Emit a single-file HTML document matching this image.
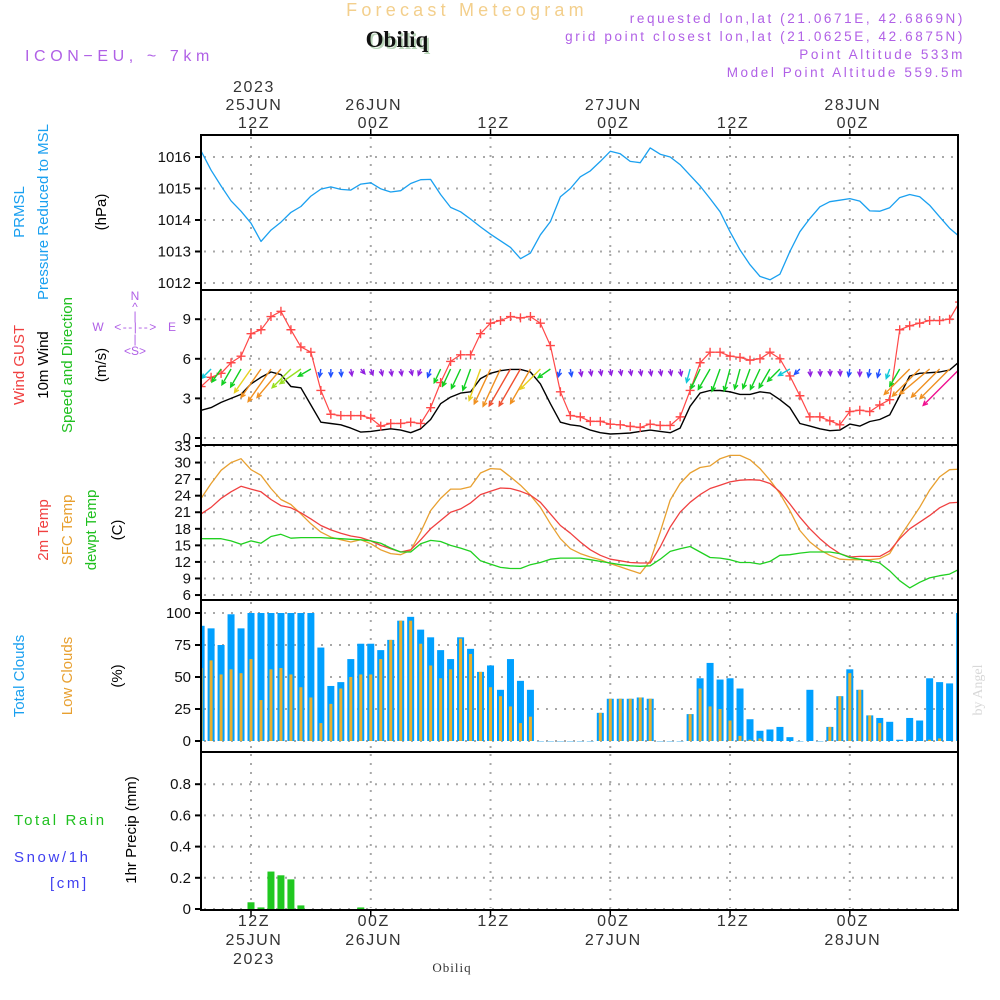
<!DOCTYPE html>
<html><head><meta charset="utf-8"><title>Forecast Meteogram Obiliq</title>
<style>
html,body{margin:0;padding:0;background:#fff;}
svg{display:block;font-family:"Liberation Sans",sans-serif;}
</style></head>
<body>
<svg id="chart" width="1000" height="1000" viewBox="0 0 1000 1000">
  <rect x="0" y="0" width="1000" height="1000" fill="#fff"/>
  <text x="467" y="16" text-anchor="middle" font-size="18" letter-spacing="4.2" fill="#f3cf8c">Forecast Meteogram</text>
  <text x="399" y="49" text-anchor="middle" font-size="23" font-weight="bold" font-family="Liberation Serif, serif" fill="#b8d4b8">Obiliq</text>
  <text x="397" y="47" text-anchor="middle" font-size="23" font-weight="bold" font-family="Liberation Serif, serif" fill="#111">Obiliq</text>
  <text x="25" y="61" font-size="16" letter-spacing="4.6" fill="#b060e6">ICON−EU, ~ 7km</text>
  <g font-size="13.5" letter-spacing="2.6" fill="#b060e6" text-anchor="end">
    <text x="965" y="23">requested lon,lat (21.0671E, 42.6869N)</text>
    <text x="965" y="41">grid point closest lon,lat (21.0625E, 42.6875N)</text>
    <text x="965" y="59">Point Altitude 533m</text>
    <text x="965" y="77">Model Point Altitude 559.5m</text>
  </g>
  <!-- left titles -->
  <g font-size="15">
    <text transform="translate(24,212) rotate(-90)" text-anchor="middle" fill="#1aa0f0">PRMSL</text>
    <text transform="translate(48,212) rotate(-90)" text-anchor="middle" fill="#1aa0f0">Pressure Reduced to MSL</text>
    <text transform="translate(106,212) rotate(-90)" text-anchor="middle" fill="#000">(hPa)</text>
    <text transform="translate(24,365) rotate(-90)" text-anchor="middle" fill="#f04040">Wind GUST</text>
    <text transform="translate(48,365) rotate(-90)" text-anchor="middle" fill="#000">10m Wind</text>
    <text transform="translate(72,365) rotate(-90)" text-anchor="middle" fill="#20c020">Speed and Direction</text>
    <text transform="translate(106,365) rotate(-90)" text-anchor="middle" fill="#000">(m/s)</text>
    <text transform="translate(48,530) rotate(-90)" text-anchor="middle" fill="#f04040">2m Temp</text>
    <text transform="translate(72,530) rotate(-90)" text-anchor="middle" fill="#e8a030">SFC Temp</text>
    <text transform="translate(96,530) rotate(-90)" text-anchor="middle" fill="#20c020">dewpt Temp</text>
    <text transform="translate(122,530) rotate(-90)" text-anchor="middle" fill="#000">(C)</text>
    <text transform="translate(24,676) rotate(-90)" text-anchor="middle" fill="#1aa0f0">Total Clouds</text>
    <text transform="translate(72,676) rotate(-90)" text-anchor="middle" fill="#e8a030">Low Clouds</text>
    <text transform="translate(122,676) rotate(-90)" text-anchor="middle" fill="#000">(%)</text>
    <text transform="translate(136,830) rotate(-90)" text-anchor="middle" fill="#000">1hr Precip (mm)</text>
    <text x="14" y="825" fill="#20c020" letter-spacing="2.6">Total   Rain</text>
    <text x="14" y="862" fill="#4040f0" letter-spacing="2.6">Snow/1h</text>
    <text x="50" y="888" fill="#4040f0" letter-spacing="2.6">[cm]</text>
  </g>
  <g fill="#b060e6" font-size="12" text-anchor="middle">
    <text x="135" y="300">N</text>
    <text x="135" y="311">^</text>
    <text x="135" y="320">|</text>
    <text x="98" y="331">W</text>
    <text x="136" y="331" letter-spacing="1.5">&lt;--|--&gt;</text>
    <text x="172" y="331">E</text>
    <text x="135" y="343">|</text>
    <text x="135" y="355">&lt;S&gt;</text>
  </g>
  <text transform="translate(982,690) rotate(-90)" text-anchor="middle" font-size="14" font-family="Liberation Serif, serif" fill="#d8d8d8">by Angel</text>
  <text x="452" y="972" text-anchor="middle" font-size="13" font-family="Liberation Serif, serif" fill="#333" letter-spacing="1">Obiliq</text>
  <g id="plot"></g>
</svg>
<script>
// ---- data (hourly from 07Z 25JUN to 11Z 28JUN; index 0 = 5h before 12Z 25JUN) ----
const firstHour = -5;
const pressure = [1016.19,1015.58,1015.08,1014.61,1014.28,1013.9,1013.32,1013.68,1013.93,1014.24,
1014.43,1014.76,1014.98,1015.05,1014.97,1014.95,1015.14,1015.18,1014.99,1014.89,
1014.93,1015.16,1015.28,1015.29,1014.81,1014.4,1014.26,1014.03,1013.78,1013.55,
1013.34,1013.13,1012.77,1012.95,1013.53,1013.95,1014.74,1015.0,1015.37,1015.56,
1015.86,1016.18,1016.1,1015.86,1015.82,1016.29,1016.09,1016.0,1015.76,1015.42,
1015.08,1014.68,1014.26,1013.63,1013.05,1012.58,1012.21,1012.1,1012.28,1013.0,
1013.63,1014.05,1014.42,1014.58,1014.63,1014.68,1014.6,1014.29,1014.28,1014.39,
1014.71,1014.81,1014.74,1014.47,1014.1,1013.74,1013.47];
const windGust = [3.9,4.6,4.9,5.7,6.2,7.9,8.2,9.2,9.6,8.2,
6.9,6.5,3.6,1.8,1.7,1.7,1.7,1.5,0.9,1.1,
1.1,1.2,1.1,2.3,4.2,5.8,6.3,6.3,7.9,8.7,
8.9,9.2,9.1,9.2,8.7,7.0,3.5,1.7,1.6,1.26,
1.26,1.05,1.0,0.88,0.8,1.05,0.95,0.95,1.6,3.6,
5.7,6.5,6.5,6.2,6.1,5.9,6.0,6.5,6.0,4.7,
3.2,1.6,1.6,1.3,1.0,2.0,2.1,2.0,2.5,2.9,
8.2,8.5,8.7,8.9,8.9,9.0,10.3];
const windSpeed = [2.1,2.3,2.7,3.0,3.3,4.1,4.6,5.0,4.8,3.9,
3.8,2.5,1.2,1.1,1.0,0.75,0.45,0.5,0.6,0.7,
0.6,0.4,0.7,1.4,2.6,3.1,3.4,3.5,4.5,4.9,
5.1,5.2,5.2,5.0,4.1,2.6,1.2,1.0,0.9,0.6,
0.4,0.3,0.33,0.38,0.5,0.6,0.5,0.4,0.75,2.4,
3.4,3.6,3.6,3.5,3.3,3.3,3.5,3.4,2.9,2.3,
1.1,0.9,0.7,0.55,0.6,1.05,0.9,1.25,1.4,1.75,
3.2,4.7,4.9,4.95,5.0,5.15,5.8];
const windDir = [50,45,35,30,30,35,35,35,40,45,
55,60,10,0,355,350,320,340,345,350,
350,345,20,20,25,25,25,20,20,25,
25,30,30,30,45,55,15,350,350,350,
350,350,350,350,350,350,350,350,350,15,
25,30,20,15,15,20,25,30,45,60,
45,355,355,355,355,10,0,10,15,20,
30,45,45,50,45,45,45];
const temp2m = [20.7,21.9,23.5,24.7,25.7,25.2,24.7,23.3,22.2,21.8,
20.9,19.8,18.6,17.8,17.2,16.7,16.4,15.8,15.0,14.4,
13.8,14.2,16.0,18.0,19.5,21.0,21.6,22.7,24.2,24.8,
25.4,25.3,24.8,24.1,22.8,20.7,18.6,17.2,15.6,14.2,
13.2,12.5,12.2,11.9,11.8,11.8,14.7,18.3,21.0,22.8,
24.2,25.3,25.9,26.5,26.8,26.9,26.8,26.2,24.7,22.5,
20.1,18.0,16.2,14.7,13.5,12.9,13.0,13.0,13.0,14.0,
16.2,18.0,19.2,20.4,21.8,22.7,22.8];
const tempSfc = [23.5,26.2,28.6,30.0,30.7,28.7,27.7,25.3,23.3,22.4,
20.7,18.9,17.4,16.5,16.0,15.6,16.0,15.3,14.2,13.5,
13.3,14.1,17.4,21.3,23.5,25.2,25.2,25.6,28.1,28.9,
28.8,27.4,25.9,24.1,21.9,18.9,16.2,14.4,13.5,12.9,
12.4,11.7,11.1,10.5,9.9,12.2,17.4,23.2,26.2,28.1,
29.1,29.4,30.7,31.3,31.3,30.5,28.9,26.8,24.4,21.3,
17.7,15.6,14.2,13.2,12.5,12.4,12.4,12.4,12.6,13.5,
16.5,19.2,21.9,25.0,27.4,28.7,28.8];
const tempDew = [16.2,16.2,16.2,15.8,15.2,15.8,15.4,16.6,17.0,16.3,
16.4,16.4,16.4,16.3,16.2,16.1,16.0,15.8,15.4,14.5,
13.8,13.8,15.3,15.9,15.7,15.0,14.5,13.9,12.2,11.6,
11.0,10.8,10.8,11.5,11.9,12.5,12.7,12.7,12.7,12.4,
12.1,11.8,11.5,11.3,11.2,11.3,12.5,13.9,14.4,14.8,
13.8,12.8,12.7,12.4,11.9,11.9,11.6,12.1,13.2,13.3,
13.6,13.8,13.8,13.8,13.5,12.8,12.5,12.2,11.8,10.4,
8.6,7.3,8.3,9.1,9.5,9.8,10.7];
const totalClouds = [90,88,75,99,88,100,100,100,100,100,
100,100,73,43,46,64,76,76,71,79,
94,97,87,81,71,64,81,72,54,59,
40,64,47,40,0,0,0,0,0,0,
22,33,33,33,34,33,0,0,0,21,
49,61,48,49,41,17,8,9,11,3,
0,40,0,11,35,56,40,20,18,15,
1,18,16,49,46,45,100];
const lowClouds = [57,63,52,56,53,64,32,56,57,52,
42,34,14,29,41,50,52,52,64,79,
94,94,76,59,49,56,80,68,54,42,
35,27,14,19,0,0,0,0,0,0,
22,33,33,33,34,33,0,0,0,21,
41,27,25,16,4,1,2,0,0,0,
0,0,0,11,35,53,40,20,14,0,
0,0,0,1,2,0,0];
const precip = [0,0,0,0,0,0.043,0.01,0.24,0.216,0.19,
0.023,0,0,0,0,0,0.01,0,0,0,
0,0,0,0,0,0,0,0,0,0,
0,0,0,0,0,0,0,0,0,0,
0,0,0,0,0,0,0,0,0,0,
0,0,0,0,0,0,0,0,0,0,
0,0,0,0,0,0,0,0,0,0,
0,0,0,0,0,0,0];
const pressureTicks = [1012,1013,1014,1015,1016];
const windTicks = [0,3,6,9];
const tempTicks = [6,9,12,15,18,21,24,27,30,33];
const cloudTicks = [0,25,50,75,100];
const precipTicks = [0,0.2,0.4,0.6,0.8];
const precipTickLabels = ["0","0.2","0.4","0.6","0.8"];
const timeTicks = [0,12,24,36,48,60];
const topLabels = [["2023","25JUN","12Z"],["","26JUN","00Z"],["","","12Z"],["","27JUN","00Z"],["","","12Z"],["","28JUN","00Z"]];
const bottomLabels = [["12Z","25JUN","2023"],["00Z","26JUN",""],["12Z","",""],["00Z","27JUN",""],["12Z","",""],["00Z","28JUN",""]];

// ---- layout ----
const NS = "http://www.w3.org/2000/svg";
const plot = document.getElementById('plot');
const L = 201, R = 958;
const X = h => 251 + h * 9.98;
const yP = v => 283 - (v - 1012) * 31.5;
const yW = v => 438 - v * 13.2;
const yT = v => 446 + (33 - v) * 5.52;
const yC = v => 741 - v * 1.28;
const yR = v => 909 - v * 156;
const panels = [[135,290,'pressure-panel'],[290,445,'wind-panel'],[445,600,'temperature-panel'],[600,752,'clouds-panel'],[752,910,'precip-panel']];

function mk(tag, attrs, parent) {
  const e = document.createElementNS(NS, tag);
  for (const k in attrs) e.setAttribute(k, attrs[k]);
  (parent || plot).appendChild(e);
  return e;
}
const defs = mk('defs', {});
const cp = mk('clipPath', {id: 'clipAll'}, defs);
mk('rect', {x: L, y: 135, width: R - L, height: 775}, cp);

// grids
const gridG = mk('g', {stroke: '#a8a8a8', 'stroke-width': 2, 'stroke-dasharray': '2,7', fill: 'none'});


timeTicks.forEach(h => {
  panels.forEach(p => {
    const ln = mk('line', {x1: X(h), x2: X(h), y1: p[0] + 2, y2: p[1] - 2}, gridG);
    
    
  });
});
function hgrid(ticks, fy, labels, name) {
  ticks.forEach((t, i) => {
    const ln = mk('line', {x1: L + 3, x2: R - 2, y1: fy(t), y2: fy(t)}, gridG);
    
    
    const tk = mk('line', {x1: L - 6, x2: L, y1: fy(t), y2: fy(t), stroke: '#000', 'stroke-width': 2});
    
    
    const tx = mk('text', {x: L - 10, y: fy(t) + 5, 'text-anchor': 'end', 'font-size': 15, fill: '#111'});
    tx.textContent = labels ? labels[i] : String(t);
    
    
  });
}
hgrid(pressureTicks, yP, null, 'pressure');
hgrid(windTicks, yW, null, 'wind');
hgrid(tempTicks, yT, null, 'temperature');
hgrid(cloudTicks, yC, null, 'clouds');
hgrid(precipTicks, yR, precipTickLabels, 'precip');

const data = mk('g', {'clip-path': 'url(#clipAll)'});



function line(arr, fy, color, name, w) {
  const pts = arr.map((v, i) => X(i + firstHour).toFixed(1) + ',' + fy(v).toFixed(1)).join(' ');
  const pl = mk('polyline', {points: pts, fill: 'none', stroke: color, 'stroke-width': w || 1.3, 'stroke-linejoin': 'round'}, data);
  
  
}
line(pressure, yP, '#1aa0f0', 'pressure-line');

// clouds bars
totalClouds.forEach((v, i) => {
  const x = X(i + firstHour);
  const hh = v * 1.28;
  const b = mk('rect', {x: x - 3.5, y: yC(v), width: 7, height: Math.max(hh, 0.8), fill: v > 0 ? '#00a0ff' : '#8ccff5'}, data);
  
  
  const lv = lowClouds[i];
  if (lv > 0) {
    const c = mk('rect', {x: x - 1.5, y: yC(lv), width: 3, height: lv * 1.28, fill: '#e8b030'}, data);
    
    
  }
});

// precip bars
precip.forEach((v, i) => {
  if (v <= 0) return;
  const x = X(i + firstHour);
  const b = mk('rect', {x: x - 3.5, y: yR(v), width: 7, height: v * 156, fill: '#20c820'}, data);
  
  
});

// temperatures
line(tempSfc, yT, '#e8a030', 'sfc-temp-line');
line(temp2m, yT, '#f04040', 'temp-2m-line');
line(tempDew, yT, '#20d020', 'dewpoint-line');

// wind
line(windSpeed, yW, '#000', 'wind-speed-line', 1.4);
line(windGust, yW, '#ff4848', 'wind-gust-line', 1.2);
windGust.forEach((v, i) => {
  const x = X(i + firstHour), y = yW(v);
  const g = mk('path', {d: `M${x - 4.5},${y}h9M${x},${y - 4.5}v9`, stroke: '#ff4848', 'stroke-width': 1.4}, data);
  
  
});
function windColor(s) {
  if (s < 1) return '#9020e0';
  if (s < 1.6) return '#2050ff';
  if (s < 2.5) return '#10c8d8';
  if (s < 3.7) return '#10d020';
  if (s < 4.0) return '#98e020';
  if (s < 4.6) return '#e8d020';
  if (s < 5.2) return '#f09020';
  if (s < 5.6) return '#f05030';
  return '#f01090';
}
windDir.forEach((d, i) => {
  const s = windSpeed[i];
  const x = X(i + firstHour), y = 369;
  const len = 6 + 1.35 * s * s;
  const a = (d + 180) * Math.PI / 180;
  const dx = Math.sin(a), dy = -Math.cos(a);
  const ex = x + dx * len, ey = y + dy * len;
  const hl = 5;
  const a1 = Math.atan2(-dy, -dx) + 0.45, a2 = Math.atan2(-dy, -dx) - 0.45;
  const col = windColor(s);
  const p = mk('path', {d: `M${x},${y}L${ex},${ey}M${ex + Math.cos(a1) * hl},${ey + Math.sin(a1) * hl}L${ex},${ey}L${ex + Math.cos(a2) * hl},${ey + Math.sin(a2) * hl}`, stroke: col, 'stroke-width': 1.4, fill: 'none'}, data);
  
  
});

// panel borders
panels.forEach(p => {
  const r = mk('rect', {x: L, y: p[0], width: R - L, height: p[1] - p[0], fill: 'none', stroke: '#000', 'stroke-width': 2});
  
  
});

// time axis labels
timeTicks.forEach((h, i) => {
  const x = X(h);
  const t1 = mk('line', {x1: x, x2: x, y1: 129, y2: 135, stroke: '#000', 'stroke-width': 1.5});
  
  
  const t2 = mk('line', {x1: x, x2: x, y1: 910, y2: 917, stroke: '#000', 'stroke-width': 1.5});
  
  
  topLabels[i].forEach((s, k) => {
    if (!s) return;
    const t = mk('text', {x: x + 3, y: 92 + k * 18, 'text-anchor': 'middle', 'font-size': 16, 'letter-spacing': 1.6, fill: '#333'});
    t.textContent = s;
    
    
  });
  bottomLabels[i].forEach((s, k) => {
    if (!s) return;
    const t = mk('text', {x: x + 3, y: 926 + k * 19, 'text-anchor': 'middle', 'font-size': 16, 'letter-spacing': 1.6, fill: '#333'});
    t.textContent = s;
    
    
  });
});
</script>
</body></html>
